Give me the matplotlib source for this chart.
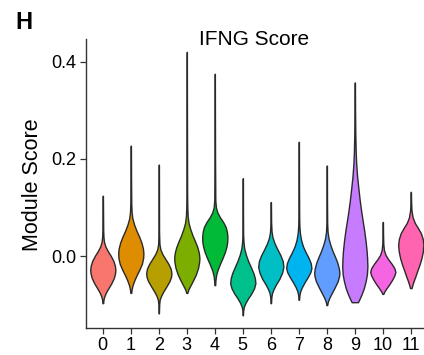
import numpy as np
import matplotlib
matplotlib.use("Agg")
import matplotlib.pyplot as plt

plt.rcParams['font.family'] = ['Liberation Sans', 'DejaVu Sans']

# clusters and ggplot hue colours
clusters = ["0", "1", "2", "3", "4", "5", "6", "7", "8", "9", "10", "11"]
colors = ["#F8766D", "#DE8C00", "#B79F00", "#7CAE00", "#00BA38", "#00C08B",
          "#00BFC4", "#00B4F0", "#619CFF", "#C77CFF", "#F564E3", "#FF64B0"]

# density profiles: score levels and relative width
y0 = [-0.097, -0.090, -0.083, -0.075, -0.066, -0.056, -0.045, -0.036, -0.029, -0.020, -0.010, 0.000, 0.010, 0.020, 0.030, 0.040, 0.055, 0.090, 0.124]
w0 = [0.03, 0.05, 0.12, 0.25, 0.45, 0.68, 0.88, 0.97, 1.00, 0.96, 0.84, 0.64, 0.40, 0.20, 0.09, 0.05, 0.03, 0.02, 0.01]
y1 = [-0.076, -0.068, -0.060, -0.050, -0.040, -0.028, -0.016, -0.004, 0.006, 0.016, 0.028, 0.040, 0.052, 0.065, 0.078, 0.092, 0.110, 0.160, 0.227]
w1 = [0.03, 0.07, 0.14, 0.28, 0.45, 0.68, 0.88, 0.98, 1.00, 0.96, 0.84, 0.66, 0.45, 0.26, 0.12, 0.06, 0.035, 0.02, 0.01]
y2 = [-0.118, -0.100, -0.090, -0.082, -0.073, -0.062, -0.051, -0.042, -0.035, -0.026, -0.016, -0.006, 0.004, 0.014, 0.025, 0.050, 0.110, 0.188]
w2 = [0.01, 0.03, 0.07, 0.18, 0.36, 0.62, 0.86, 0.98, 1.00, 0.94, 0.76, 0.52, 0.28, 0.12, 0.05, 0.02, 0.015, 0.01]
y3 = [-0.076, -0.069, -0.061, -0.050, -0.038, -0.024, -0.012, -0.004, 0.006, 0.018, 0.030, 0.042, 0.055, 0.068, 0.082, 0.100, 0.130, 0.200, 0.320, 0.420]
w3 = [0.04, 0.12, 0.28, 0.50, 0.72, 0.90, 0.98, 1.00, 0.96, 0.84, 0.66, 0.46, 0.28, 0.14, 0.07, 0.04, 0.025, 0.02, 0.01, 0.005]
y4 = [-0.060, -0.050, -0.040, -0.030, -0.018, -0.005, 0.008, 0.020, 0.030, 0.040, 0.050, 0.060, 0.070, 0.080, 0.090, 0.100, 0.115, 0.200, 0.300, 0.375]
w4 = [0.03, 0.05, 0.10, 0.20, 0.38, 0.60, 0.80, 0.93, 0.99, 1.00, 0.96, 0.86, 0.66, 0.40, 0.20, 0.09, 0.04, 0.02, 0.01, 0.005]
y5 = [-0.122, -0.112, -0.104, -0.096, -0.087, -0.077, -0.066, -0.056, -0.046, -0.035, -0.023, -0.010, 0.003, 0.016, 0.030, 0.045, 0.090, 0.160]
w5 = [0.01, 0.03, 0.09, 0.22, 0.42, 0.68, 0.90, 1.00, 0.96, 0.84, 0.64, 0.42, 0.24, 0.11, 0.05, 0.025, 0.015, 0.01]
y6 = [-0.097, -0.085, -0.076, -0.068, -0.058, -0.047, -0.034, -0.022, -0.010, 0.002, 0.014, 0.026, 0.038, 0.050, 0.070, 0.111]
w6 = [0.02, 0.04, 0.10, 0.22, 0.42, 0.68, 0.90, 1.00, 0.94, 0.76, 0.52, 0.30, 0.14, 0.06, 0.025, 0.01]
y7 = [-0.090, -0.080, -0.072, -0.064, -0.054, -0.043, -0.033, -0.025, -0.015, -0.004, 0.008, 0.020, 0.033, 0.047, 0.062, 0.080, 0.150, 0.235]
w7 = [0.02, 0.05, 0.12, 0.25, 0.46, 0.72, 0.92, 1.00, 0.95, 0.78, 0.54, 0.33, 0.18, 0.09, 0.045, 0.03, 0.015, 0.01]
y8 = [-0.101, -0.094, -0.086, -0.076, -0.064, -0.052, -0.042, -0.035, -0.026, -0.014, -0.002, 0.010, 0.023, 0.036, 0.050, 0.068, 0.120, 0.186]
w8 = [0.03, 0.08, 0.20, 0.40, 0.64, 0.86, 0.97, 1.00, 0.96, 0.84, 0.66, 0.46, 0.28, 0.14, 0.06, 0.03, 0.015, 0.01]
y9 = [-0.095, -0.088, -0.078, -0.066, -0.052, -0.038, -0.022, -0.006, 0.010, 0.030, 0.050, 0.070, 0.090, 0.115, 0.140, 0.165, 0.190, 0.215, 0.250, 0.300, 0.357]
w9 = [0.25, 0.38, 0.55, 0.72, 0.86, 0.96, 1.00, 0.98, 0.94, 0.86, 0.76, 0.64, 0.52, 0.39, 0.28, 0.18, 0.11, 0.07, 0.04, 0.02, 0.01]
y10 = [-0.078, -0.073, -0.066, -0.058, -0.049, -0.040, -0.033, -0.025, -0.016, -0.007, 0.002, 0.012, 0.025, 0.045, 0.070]
w10 = [0.04, 0.12, 0.30, 0.52, 0.74, 0.92, 1.00, 0.92, 0.70, 0.44, 0.22, 0.09, 0.04, 0.02, 0.01]
y11 = [-0.066, -0.060, -0.052, -0.042, -0.030, -0.017, -0.004, 0.010, 0.023, 0.035, 0.047, 0.058, 0.068, 0.080, 0.095, 0.112, 0.132]
w11 = [0.06, 0.12, 0.22, 0.36, 0.52, 0.70, 0.85, 0.96, 1.00, 0.95, 0.80, 0.56, 0.32, 0.14, 0.05, 0.025, 0.01]

levels = [y0, y1, y2, y3, y4, y5, y6, y7, y8, y9, y10, y11]
widths = [w0, w1, w2, w3, w4, w5, w6, w7, w8, w9, w10, w11]

yticks = [0.0, 0.2, 0.4]
ytick_labels = ["0.0", "0.2", "0.4"]

fig = plt.figure(figsize=(4.24, 3.55), dpi=100)
ax = fig.add_axes([86/424, 1 - 327.7/355, 341.6/424, (327.7 - 39.3)/355])

stats = []
for yy, ww in zip(levels, widths):
    peak = yy[int(np.argmax(ww))]
    stats.append({"coords": np.array(yy), "vals": np.array(ww),
                  "mean": peak, "median": peak, "min": yy[0], "max": yy[-1]})

parts = ax.violin(stats, positions=range(len(clusters)), widths=0.9,
                  showmeans=False, showextrema=False, showmedians=False)
for body, c in zip(parts["bodies"], colors):
    body.set_facecolor(c)
    body.set_edgecolor("#2a2a2a")
    body.set_linewidth(1.0)
    body.set_alpha(1)

ax.set_xlim(-0.6, 11.6)
ax.set_ylim(-0.1475, 0.446)
ax.set_xticks(range(len(clusters)))
ax.set_xticklabels(clusters)
ax.set_yticks(yticks)
ax.set_yticklabels(ytick_labels)
ax.tick_params(labelsize=13, length=4.5, width=0.9, color="#333333", pad=2.5, labelcolor="black")
for s in ["top", "right"]:
    ax.spines[s].set_visible(False)
for s in ["left", "bottom"]:
    ax.spines[s].set_color("#333333")
    ax.spines[s].set_linewidth(1.0)

fig.text(254/424, 1 - 45/355, "IFNG Score", ha="center", va="baseline", fontsize=15)
fig.text(33/424, 1 - 184.5/355, "Module Score", rotation=90, ha="center", va="center", fontsize=15.5)
fig.text(15/424, 1 - 11/355, "H", ha="left", va="top", fontsize=17, fontweight="bold")

fig.savefig("out.png", dpi=100)
